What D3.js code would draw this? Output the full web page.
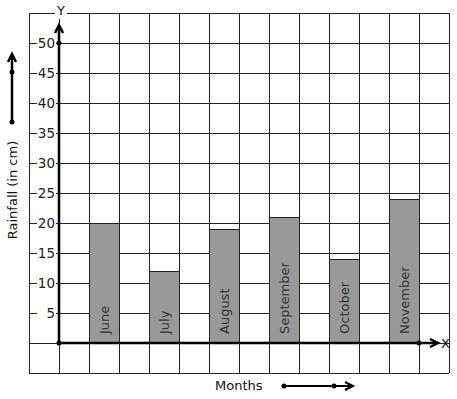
<!DOCTYPE html>
<html>
<head>
<meta charset="utf-8">
<script src="https://cdn.jsdelivr.net/npm/d3@7"></script>
<style>
  body { margin: 0; background: #fff; }
  text { font-family: "DejaVu Sans", sans-serif; }
</style>
</head>
<body>
<div id="chart"></div>
<script>
const months = ['June', 'July', 'August', 'September', 'October', 'November'];
const rainfall = [20, 12, 19, 21, 14, 24];
const yTicks = [5, 10, 15, 20, 25, 30, 35, 40, 45, 50];

const width = 457, height = 399;
const cell = 30;
const gridLeft = 29, gridTop = 13, cols = 14, rows = 12;
const originX = gridLeft + cell, originY = gridTop + cell * 11;

const svg = d3.select('#chart').append('svg')
  .attr('width', width)
  .attr('height', height);

// columns: one grid cell each, bars on every other column starting at col 1 after axis
const x = d3.scaleBand()
  .domain(d3.range(cols - 1))
  .range([originX, gridLeft + cols * cell])
  .padding(0);

const y = d3.scaleLinear()
  .domain([0, 50])
  .range([originY, originY - cell * 10]);

// Grid
const grid = svg.append('g').attr('class', 'grid')
  .attr('stroke', '#222').attr('stroke-width', 1).attr('shape-rendering', 'crispEdges');
grid.selectAll('.v').data(d3.range(cols + 1)).enter().append('line')
  .attr('x1', i => gridLeft + i * cell).attr('x2', i => gridLeft + i * cell)
  .attr('y1', gridTop).attr('y2', gridTop + rows * cell);
grid.selectAll('.h').data(d3.range(rows + 1)).enter().append('line')
  .attr('x1', gridLeft).attr('x2', gridLeft + cols * cell)
  .attr('y1', i => gridTop + i * cell).attr('y2', i => gridTop + i * cell);

// Bars
const barCols = months.map((m, i) => 1 + i * 2);
svg.selectAll('.bar').data(rainfall).enter().append('rect')
  .attr('class', 'bar')
  .attr('x', (d, i) => x(barCols[i]))
  .attr('y', d => y(d))
  .attr('width', x.bandwidth())
  .attr('height', d => y(0) - y(d))
  .attr('fill', '#999')
  .attr('stroke', '#222')
  .attr('shape-rendering', 'crispEdges');

svg.selectAll('.bar-label').data(months).enter().append('text')
  .attr('class', 'bar-label')
  .attr('transform', (d, i) => `translate(${x(barCols[i]) + x.bandwidth() / 2 + 5},${y(0) - 9}) rotate(-90)`)
  .attr('font-size', 13)
  .attr('fill', '#333')
  .text(d => d);

// Y tick labels
const yl = svg.selectAll('.ytick').data(yTicks).enter().append('g')
  .attr('transform', d => `translate(0,${y(d)})`);
yl.append('rect')
  .attr('x', 37).attr('y', -7).attr('width', 19).attr('height', 14).attr('fill', '#fff');
yl.append('text')
  .attr('x', 55).attr('dy', '0.35em')
  .attr('text-anchor', 'end')
  .attr('font-size', 13.5)
  .attr('fill', '#222')
  .text(d => d);

// Axes
const axes = svg.append('g').attr('stroke', '#000').attr('stroke-width', 2.5).attr('fill', 'none');
axes.append('line').attr('x1', originX).attr('x2', originX).attr('y1', originY).attr('y2', 26);
axes.append('path').attr('d', `M${originX - 4},${33} L${originX},${25} L${originX + 4},${33}`);
axes.append('line').attr('x1', originX).attr('x2', 437).attr('y1', originY).attr('y2', originY);
axes.append('path').attr('d', `M${430},${originY - 4} L${438},${originY} L${430},${originY + 4}`);

const dots = [[originX, originY], [originX, y(50)], [gridLeft + 13 * cell, originY]];
svg.selectAll('.dot').data(dots).enter().append('circle')
  .attr('cx', d => d[0]).attr('cy', d => d[1]).attr('r', 2.5).attr('fill', '#000');

// Axis letters
svg.append('rect').attr('x', 55).attr('y', 5).attr('width', 12).attr('height', 14).attr('fill', '#fff');
svg.append('text').attr('x', 61).attr('y', 15).attr('text-anchor', 'middle')
  .attr('font-size', 13).attr('fill', '#111').text('Y');
svg.append('text').attr('x', 441).attr('y', originY + 5)
  .attr('font-size', 13).attr('fill', '#111').text('X');

// Axis titles
svg.append('text')
  .attr('transform', 'translate(17,190) rotate(-90)')
  .attr('text-anchor', 'middle')
  .attr('font-size', 13).attr('fill', '#111')
  .text('Rainfall (in cm)');
svg.append('text').attr('x', 215).attr('y', 390)
  .attr('font-size', 13).attr('fill', '#111').text('Months');

// Decorative arrows
const deco = svg.append('g').attr('stroke', '#000').attr('stroke-width', 2.5).attr('fill', 'none');
deco.append('line').attr('x1', 12).attr('x2', 12).attr('y1', 122).attr('y2', 55);
deco.append('path').attr('d', 'M8,62 L12,54 L16,62');
deco.append('line').attr('x1', 284).attr('x2', 352).attr('y1', 386).attr('y2', 386).attr('stroke-width', 2);
deco.append('path').attr('d', 'M345,382 L353,386 L345,390').attr('stroke-width', 2);
svg.selectAll('.ddot').data([[12, 72], [12, 122], [284, 386], [334, 386]]).enter().append('circle')
  .attr('cx', d => d[0]).attr('cy', d => d[1]).attr('r', 2.5).attr('fill', '#000');
</script>
</body>
</html>
